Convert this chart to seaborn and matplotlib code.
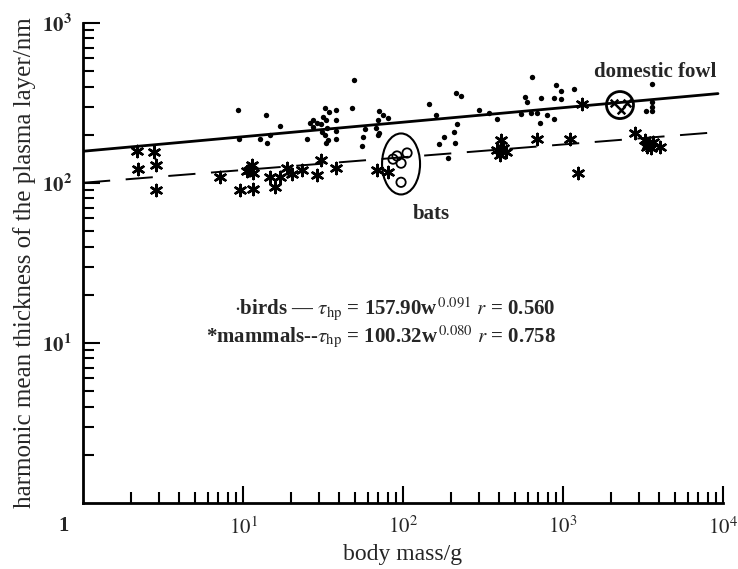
import numpy as np
import pandas as pd
import seaborn as sns
import matplotlib.pyplot as plt
import matplotlib.transforms as mtransforms
from matplotlib.patches import Ellipse

# body mass (g) and harmonic mean thickness (nm)
bird_mass = [9.3, 13.9, 9.4, 12.8, 14.1, 14.7, 17.0, 25.1, 26.2, 27.4,
             32.5, 34.5, 38.1, 31.6, 33.0, 30.7, 33.5, 31.2, 32.5, 34.0,
             33.0, 38.1, 38.1, 38.1, 27.4, 29.0,
             49.4, 48.0, 57.9, 56.2, 55.4,
             70.8, 75.0, 69.8, 80.5, 67.8, 70.8, 69.8,
             640, 904, 972, 1172, 214, 230, 145, 161, 299, 345, 387,
             579, 596, 729, 879, 972, 546, 631, 688, 794, 718, 879,
             218, 208, 180, 211, 168, 191,
             3597, 3302, 3597, 3597, 3597]
bird_thick = [286, 266, 188, 188, 178, 200, 227, 188, 237, 248,
              294, 278, 286, 258, 248, 234, 221, 208, 200, 186,
              178, 248, 211, 188, 224, 237,
              440, 294, 218, 194, 170,
              282, 266, 248, 255, 221, 205, 200,
              460, 410, 376, 387, 365, 350, 312, 266, 286, 274, 251,
              345, 321, 340, 340, 335, 270, 274, 274, 266, 237, 251,
              234, 208, 194, 178, 175, 143,
              415, 282, 321, 299, 282]

mammal_mass = [2.17, 2.78, 2.21, 2.86, 2.86, 7.18, 9.58, 11.5, 11.4, 10.6,
               11.5, 11.0, 14.7, 15.8, 17.0, 18.8, 20.2, 23.4, 29.0, 30.7,
               38.1, 68.8, 80.5,
               410, 386, 422, 404, 441, 688, 1106, 1315, 1241, 2818,
               3255, 3398, 3548, 3652, 4040, 3337]
mammal_thick = [158, 156, 122, 130, 90.4, 109, 90.4, 91.7, 130, 119,
                116, 121, 109, 94.4, 109, 124, 114, 121, 112, 139,
                124, 121, 117,
                186, 161, 165, 150, 156, 188, 188, 312, 116, 205,
                186, 173, 165, 180, 168, 168]

bat_mass = [86.6, 91.7, 97.2, 106, 97.2]
bat_thick = [141, 147.5, 133, 154, 101]

fowl_mass = [2083, 2512, 2305]
fowl_thick = [316, 316, 286]

# regression lines (end points as drawn)
line_mass = [1, 9300]
bird_line = [157.9, 362]
mammal_line = [100.3, 208]

birds = pd.DataFrame({"mass": bird_mass, "thick": bird_thick})
mammals = pd.DataFrame({"mass": mammal_mass, "thick": mammal_thick})
bats = pd.DataFrame({"mass": bat_mass, "thick": bat_thick})
fowl = pd.DataFrame({"mass": fowl_mass, "thick": fowl_thick})

sns.set_style("ticks")
plt.rcParams['font.family'] = ['Liberation Serif', 'DejaVu Serif']
plt.rcParams['mathtext.fontset'] = 'stix'

fig = plt.figure(figsize=(7.38, 5.69), dpi=100)
ax = fig.add_axes([0.1125, 0.116, 0.8672, 0.8436])
ax.set_xscale('log')
ax.set_yscale('log')
ax.set_xlim(1, 1e4)
ax.set_ylim(1, 1e3)

sns.lineplot(x=line_mass, y=bird_line, ax=ax, color='black', lw=2.0)
sns.lineplot(x=line_mass, y=mammal_line, ax=ax, color='black', lw=1.4,
             linestyle=(0, (14, 8)))

sns.scatterplot(data=birds, x="mass", y="thick", ax=ax, color='black',
                marker='o', s=15, linewidth=0)
sns.scatterplot(data=mammals, x="mass", y="thick", ax=ax, color='black',
                marker=(6, 2, 0), s=65, linewidth=1.8)
sns.scatterplot(data=bats, x="mass", y="thick", ax=ax, marker='o', s=45,
                facecolors='none', edgecolor='black', linewidth=1.3)
sns.scatterplot(data=fowl, x="mass", y="thick", ax=ax, color='black',
                marker='x', s=30, linewidth=1.8)

# ellipses drawn in screen units around the groups
trans = fig.dpi_scale_trans + mtransforms.ScaledTranslation(97.2, 131.5, ax.transData)
ax.add_patch(Ellipse((0, 0), 0.38, 0.61, transform=trans, fill=False,
                     edgecolor='black', lw=1.5))
trans = fig.dpi_scale_trans + mtransforms.ScaledTranslation(2270, 307, ax.transData)
ax.add_patch(Ellipse((0, 0), 0.27, 0.27, transform=trans, fill=False,
                     edgecolor='black', lw=2.0))

ax.text(150, 64, 'bats', ha='center', va='center', fontsize=15, fontweight='bold')
ax.text(3758, 494, 'domestic fowl', ha='center', va='center', fontsize=15,
        fontweight='bold')

eq_text = (r'$\cdot$birds — $\tau_{\rm hp}$ = 157.90w$^{\,0.091}$ $r$ = 0.560' + '\n' +
           r'*mammals--$\tau_{\rm hp}$ = 100.32w$^{\,0.080}$ $r$ = 0.758')
ax.text(0.739, 0.376, eq_text, transform=ax.transAxes, ha='right', va='center',
        multialignment='right', linespacing=1.05, fontsize=15, fontweight='bold')

ax.set_xticks([10, 100, 1000, 10000])
ax.set_xticklabels([r'$10^1$', r'$10^2$', r'$10^3$', r'$10^4$'], fontsize=15)
ax.set_yticks([10, 100, 1000])
ax.set_yticklabels([r'$\mathbf{10^1}$', r'$\mathbf{10^2}$', r'$\mathbf{10^3}$'], fontsize=15)
ax.text(-0.031, -0.047, '1', transform=ax.transAxes, ha='center', va='center',
        fontsize=15, fontweight='bold')

ax.tick_params(which='both', direction='in', color='black', width=1.5)
ax.tick_params(which='major', length=12, pad=8)
ax.tick_params(which='minor', length=8)
ax.tick_params(axis='x', pad=10)
sns.despine(ax=ax)
for s in ['left', 'bottom']:
    ax.spines[s].set_linewidth(2.0)
    ax.spines[s].set_color('black')

ax.set_xlabel('body mass/g', fontsize=17, labelpad=4)
ax.set_ylabel('harmonic mean thickness of the plasma layer/nm', fontsize=18, labelpad=4)
ax.grid(False)

fig.savefig('out.png', dpi=100)
